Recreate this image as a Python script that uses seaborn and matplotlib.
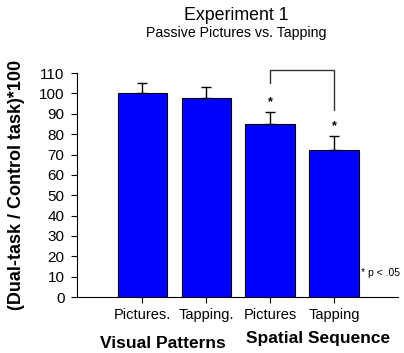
import numpy as np
import pandas as pd
import matplotlib
matplotlib.use('Agg')
import matplotlib.pyplot as plt
import seaborn as sns

conditions = ['Pictures.', 'Tapping.', 'Pictures', 'Tapping']
ratios = [100, 98, 85, 72]
sem = [5, 5, 6, 7]
groups = ['Visual Patterns', 'Spatial Sequence']
y_ticks = list(range(0, 111, 10))

sns.set_theme(style='white')
plt.rcParams['font.family'] = ['Liberation Sans', 'DejaVu Sans']
plt.rcParams['text.color'] = 'black'
plt.rcParams['xtick.color'] = 'black'
plt.rcParams['ytick.color'] = 'black'
plt.rcParams['axes.labelcolor'] = 'black'

df = pd.DataFrame({'condition': conditions, 'ratio': ratios})

fig = plt.figure(figsize=(4.04, 3.53), dpi=100)
ax = fig.add_axes([0.1906, 0.1586, 0.7944, 0.6344])

sns.barplot(data=df, x='condition', y='ratio', color='#0000ff', saturation=1,
            edgecolor='black', linewidth=0.8, width=0.77, errorbar=None, ax=ax)
ax.errorbar(range(len(ratios)), ratios, yerr=[np.zeros(len(sem)), sem], fmt='none',
            ecolor='black', elinewidth=1, capsize=3.5, capthick=1)

ax.set_xlim(-1.02, 4.0)
ax.set_ylim(0, 110)
ax.set_yticks(y_ticks)
ax.tick_params(axis='y', labelsize=11, length=4, width=0.8, direction='out', left=True, pad=5)
ax.tick_params(axis='x', labelsize=10.5, length=4, width=0.8, direction='out', bottom=True, pad=4)
ax.set_xlabel('')
ax.set_ylabel('(Dual-task / Control task)*100', fontsize=13, fontweight='bold')
ax.yaxis.set_label_coords(-0.162, 0.502)
for s in ['top', 'right']:
    ax.spines[s].set_visible(False)
for s in ['left', 'bottom']:
    ax.spines[s].set_color('black')
    ax.spines[s].set_linewidth(0.8)

# significance bracket
ax.plot([2, 2, 3, 3], [105, 111.3, 111.3, 92], color='#333333', lw=1, clip_on=False)
ax.text(2, ratios[2] + sem[2] + 2, '*', ha='center', va='bottom', fontsize=9, fontweight='bold')
ax.text(3, ratios[3] + sem[3] + 2, '*', ha='center', va='bottom', fontsize=9, fontweight='bold')
ax.text(3.43, 12, '* p < .05', ha='left', va='center', fontsize=7.5, clip_on=False)

fig.text(0.585, 0.957, 'Experiment 1', ha='center', va='center', fontsize=12.8)
fig.text(0.585, 0.906, 'Passive Pictures vs. Tapping', ha='center', va='center', fontsize=10.2)
fig.text(0.402, 0.028, groups[0], ha='center', va='center', fontsize=12.5, fontweight='bold')
fig.text(0.788, 0.04, groups[1], ha='center', va='center', fontsize=12.5, fontweight='bold')

fig.savefig('out.png', dpi=100)
